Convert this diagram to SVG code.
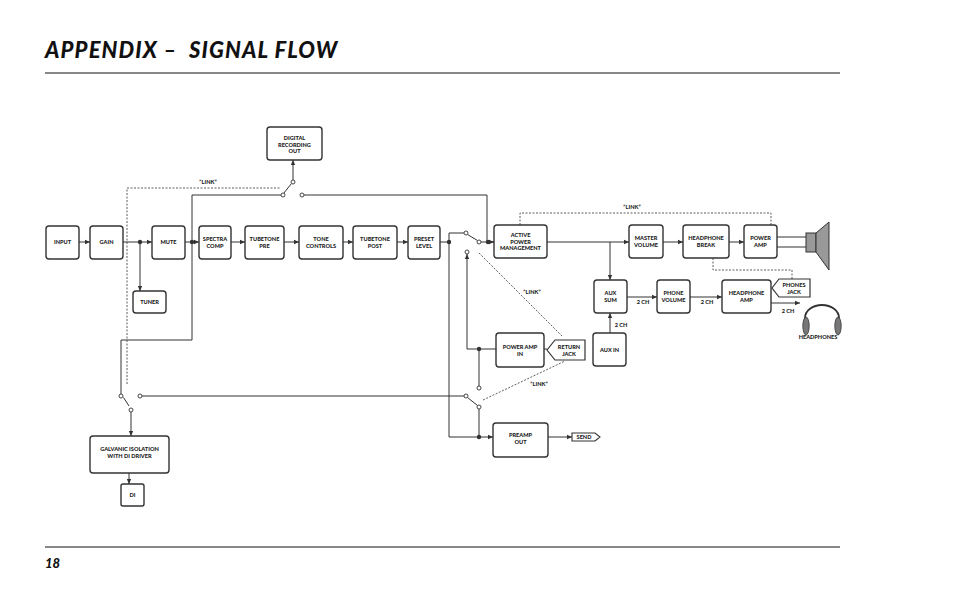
<svg xmlns="http://www.w3.org/2000/svg" width="954" height="591" viewBox="0 0 954 591">
<defs>
<marker id="ar" markerWidth="6" markerHeight="6" refX="5" refY="3" orient="auto" markerUnits="userSpaceOnUse"><path d="M0,0.8 L5,3 L0,5.2z" fill="#333"/></marker>
<style>
.b{fill:#fff;stroke:#333;stroke-width:1.4}
.t{font-family:Lato,"Open Sans",sans-serif;font-weight:900;font-size:5.6px;fill:#222;text-anchor:middle}
.w{fill:none;stroke:#333;stroke-width:1}
.d{fill:none;stroke:#333;stroke-width:0.8;stroke-dasharray:2,1.5}
.c{fill:#fff;stroke:#333;stroke-width:0.9}
.j{fill:#333}
</style>
</defs>
<rect width="954" height="591" fill="#fff"/>
<text x="45" y="58" font-family="Lato,sans-serif" font-weight="900" font-style="italic" font-size="22" letter-spacing="1.1" fill="#111" xml:space="preserve">APPENDIX –  SIGNAL FLOW</text>
<line x1="45" y1="73" x2="840" y2="73" stroke="#111" stroke-width="1"/>
<line x1="45" y1="547" x2="840" y2="547" stroke="#111" stroke-width="1.2"/>
<text x="45" y="568" font-family="Lato,sans-serif" font-weight="900" font-style="italic" font-size="13" fill="#111">18</text>

<g id="connectors">
<path class="w" d="M79,242 H90" marker-end="url(#ar)"/>
<path class="w" d="M123,242 H152" marker-end="url(#ar)"/>
<path class="w" d="M140,242 V291" marker-end="url(#ar)"/>
<path class="w" d="M185,242 H199" marker-end="url(#ar)"/>
<path class="w" d="M230,242 H245" marker-end="url(#ar)"/>
<path class="w" d="M284,242 H299" marker-end="url(#ar)"/>
<path class="w" d="M343,242 H353" marker-end="url(#ar)"/>
<path class="w" d="M397,242 H408" marker-end="url(#ar)"/>
<path class="w" d="M440,242 H449"/>
<path class="w" d="M192,242 V195 H281"/>
<path class="w" d="M192,242 V340 H121 V394"/>
<path class="w" d="M283.5,193.5 L291.5,183.5"/>
<path class="w" d="M293,180 V160" marker-end="url(#ar)"/>
<path class="w" d="M304,195 H487 V242 H494" />
<path class="d" d="M127,384 V188 H280"/>
<path class="w" d="M449,242 V233 H464"/>
<path class="w" d="M467.5,234.5 L477.5,240.5"/>
<path class="w" d="M481,242 H494" marker-end="url(#ar)"/>
<path class="w" d="M449,242 V437 H493" marker-end="url(#ar)"/>
<path class="w" d="M496,349 H467 V254" marker-end="url(#ar)"/>
<path class="w" d="M479,349 V386"/>
<path class="w" d="M479,409 V437"/>
<path class="w" d="M123.5,397.5 L129,406"/>
<path class="w" d="M131,412 V436" marker-end="url(#ar)"/>
<path class="w" d="M142,396 H464"/>
<path class="w" d="M467.5,397.5 L477.5,405.5"/>
<path class="w" d="M548,437 H572" marker-end="url(#ar)"/>
<path class="w" d="M129,473 V484" marker-end="url(#ar)"/>
<path class="d" d="M483,400 L565,361"/>
<path class="d" d="M479,253 L563,337"/>
<path class="w" d="M547,242 H629" marker-end="url(#ar)"/>
<path class="w" d="M610,242 V280" marker-end="url(#ar)"/>
<path class="w" d="M663,242 H683" marker-end="url(#ar)"/>
<path class="w" d="M729,242 H744" marker-end="url(#ar)"/>
<path class="w" d="M777,237 H806 M777,247 H806"/>
<path class="d" d="M520,225 V213 H771 V225"/>
<path class="d" d="M713,258 V270 H792 V279"/>
<path class="w" d="M627,297 H657" marker-end="url(#ar)"/>
<path class="w" d="M690,297 H722" marker-end="url(#ar)"/>
<path class="w" d="M771,303 H800" marker-end="url(#ar)"/>
<path class="w" d="M610,333 V313" marker-end="url(#ar)"/>
<path class="w" d="M544,349 H547"/>
</g>
<circle class="j" cx="140" cy="242" r="2.2"/>
<circle class="j" cx="192" cy="242" r="2.2"/>
<circle class="j" cx="449" cy="242" r="2.2"/>
<circle class="j" cx="488" cy="242" r="2.2"/>
<circle class="j" cx="479" cy="349" r="2.2"/>
<circle class="j" cx="479" cy="437" r="2.2"/>
<circle class="c" cx="283" cy="195" r="2"/>
<circle class="c" cx="302" cy="195" r="2"/>
<circle class="c" cx="293" cy="182" r="2"/>
<circle class="c" cx="466" cy="233" r="2"/>
<circle class="c" cx="479" cy="242" r="2"/>
<circle class="c" cx="467" cy="252" r="2"/>
<circle class="c" cx="121" cy="396" r="2"/>
<circle class="c" cx="140" cy="396" r="2"/>
<circle class="c" cx="131" cy="410" r="2"/>
<circle class="c" cx="466" cy="396" r="2"/>
<circle class="c" cx="479" cy="407" r="2"/>
<circle class="c" cx="479" cy="388" r="2"/>
<text class="t" x="208" y="184">“LINK”</text>
<text class="t" x="632" y="209">“LINK”</text>
<text class="t" x="532" y="294">“LINK”</text>
<text class="t" x="539" y="386">“LINK”</text>
<text class="t" x="643" y="304">2 CH</text>
<text class="t" x="707" y="304">2 CH</text>
<text class="t" x="788" y="313">2 CH</text>
<text class="t" x="621" y="327">2 CH</text>

<g id="input"><rect class="b" x="46" y="226" width="33" height="33" rx="3"/><text class="t" x="62.5" y="244">INPUT</text></g>
<g id="gain"><rect class="b" x="90" y="226" width="33" height="33" rx="3"/><text class="t" x="106.5" y="244">GAIN</text></g>
<g id="mute"><rect class="b" x="152" y="226" width="33" height="33" rx="3"/><text class="t" x="168.5" y="244">MUTE</text></g>
<g id="tuner"><rect class="b" x="133" y="291" width="33" height="22" rx="3"/><text class="t" x="149.5" y="304">TUNER</text></g>
<g id="spectra"><rect class="b" x="199" y="226" width="32" height="33" rx="3"/><text class="t" x="215" y="241">SPECTRA</text><text class="t" x="215" y="248">COMP</text></g>
<g id="tpre"><rect class="b" x="245" y="226" width="39" height="33" rx="3"/><text class="t" x="264.5" y="241">TUBETONE</text><text class="t" x="264.5" y="248">PRE</text></g>
<g id="tone"><rect class="b" x="299" y="226" width="44" height="33" rx="3"/><text class="t" x="321" y="241">TONE</text><text class="t" x="321" y="248">CONTROLS</text></g>
<g id="tpost"><rect class="b" x="353" y="226" width="44" height="33" rx="3"/><text class="t" x="375" y="241">TUBETONE</text><text class="t" x="375" y="248">POST</text></g>
<g id="preset"><rect class="b" x="408" y="226" width="32" height="33" rx="3"/><text class="t" x="424" y="241">PRESET</text><text class="t" x="424" y="248">LEVEL</text></g>
<g id="digital"><rect class="b" x="267" y="127" width="55" height="33" rx="3"/><text class="t" x="294.5" y="140">DIGITAL</text><text class="t" x="294.5" y="146.5">RECORDING</text><text class="t" x="294.5" y="153">OUT</text></g>
<g id="apm"><rect class="b" x="494" y="225" width="53" height="33" rx="3"/><text class="t" x="520.5" y="237">ACTIVE</text><text class="t" x="520.5" y="243.5">POWER</text><text class="t" x="520.5" y="250">MANAGEMENT</text></g>
<g id="master"><rect class="b" x="629" y="225" width="34" height="33" rx="3"/><text class="t" x="646" y="240">MASTER</text><text class="t" x="646" y="247">VOLUME</text></g>
<g id="hpbreak"><rect class="b" x="683" y="225" width="46" height="33" rx="3"/><text class="t" x="706" y="240">HEADPHONE</text><text class="t" x="706" y="247">BREAK</text></g>
<g id="poweramp"><rect class="b" x="744" y="225" width="33" height="33" rx="3"/><text class="t" x="760.5" y="240">POWER</text><text class="t" x="760.5" y="247">AMP</text></g>
<g id="speaker"><rect x="806" y="233" width="10" height="19" fill="#999" stroke="#333" stroke-width="1"/><path d="M816,233 L829,222 V270 L816,252 Z" fill="#999" stroke="#333" stroke-width="1"/></g>
<g id="auxsum"><rect class="b" x="594" y="280" width="33" height="33" rx="3"/><text class="t" x="610.5" y="295">AUX</text><text class="t" x="610.5" y="302">SUM</text></g>
<g id="phonevol"><rect class="b" x="657" y="280" width="33" height="33" rx="3"/><text class="t" x="673.5" y="295">PHONE</text><text class="t" x="673.5" y="302">VOLUME</text></g>
<g id="hpamp"><rect class="b" x="722" y="280" width="49" height="33" rx="3"/><text class="t" x="746.5" y="295">HEADPHONE</text><text class="t" x="746.5" y="302">AMP</text></g>
<g id="phonesjack"><path d="M772,288 L779,279 H810 V297 H779 Z" fill="#fff" stroke="#333" stroke-width="1.2"/><text class="t" x="794" y="287">PHONES</text><text class="t" x="794" y="294">JACK</text></g>
<g id="headphones"><path d="M805,322 V318 A17,13 0 0 1 839,318 V322" fill="none" stroke="#333" stroke-width="1.8"/><ellipse cx="806" cy="326" rx="3.2" ry="9" fill="#777" stroke="#333" stroke-width="0.8"/><ellipse cx="838" cy="326" rx="3.2" ry="9" fill="#777" stroke="#333" stroke-width="0.8"/><text class="t" x="818" y="339">HEADPHONES</text></g>
<g id="auxin"><rect class="b" x="593" y="333" width="33" height="33" rx="3"/><text class="t" x="609.5" y="352">AUX IN</text></g>
<g id="pain"><rect class="b" x="496" y="333" width="48" height="34" rx="3"/><text class="t" x="520" y="349">POWER AMP</text><text class="t" x="520" y="356">IN</text></g>
<g id="returnjack"><path d="M547,350 L555,340 H585 V360 H555 Z" fill="#fff" stroke="#333" stroke-width="1.2"/><text class="t" x="569" y="349">RETURN</text><text class="t" x="569" y="356">JACK</text></g>
<g id="preampout"><rect class="b" x="493" y="423" width="55" height="34" rx="3"/><text class="t" x="520.5" y="437">PREAMP</text><text class="t" x="520.5" y="444">OUT</text></g>
<g id="send"><path d="M572,433 H595 L600,437 L595,441 H572 Z" fill="#fff" stroke="#333" stroke-width="1.1"/><text class="t" x="584" y="439">SEND</text></g>
<g id="galvanic"><rect class="b" x="90" y="436" width="79" height="37" rx="3"/><text class="t" x="129.5" y="451">GALVANIC ISOLATION</text><text class="t" x="129.5" y="458">WITH DI DRIVER</text></g>
<g id="di"><rect class="b" x="121" y="484" width="23" height="22" rx="2"/><text class="t" x="132.5" y="497">DI</text></g>
</svg>
